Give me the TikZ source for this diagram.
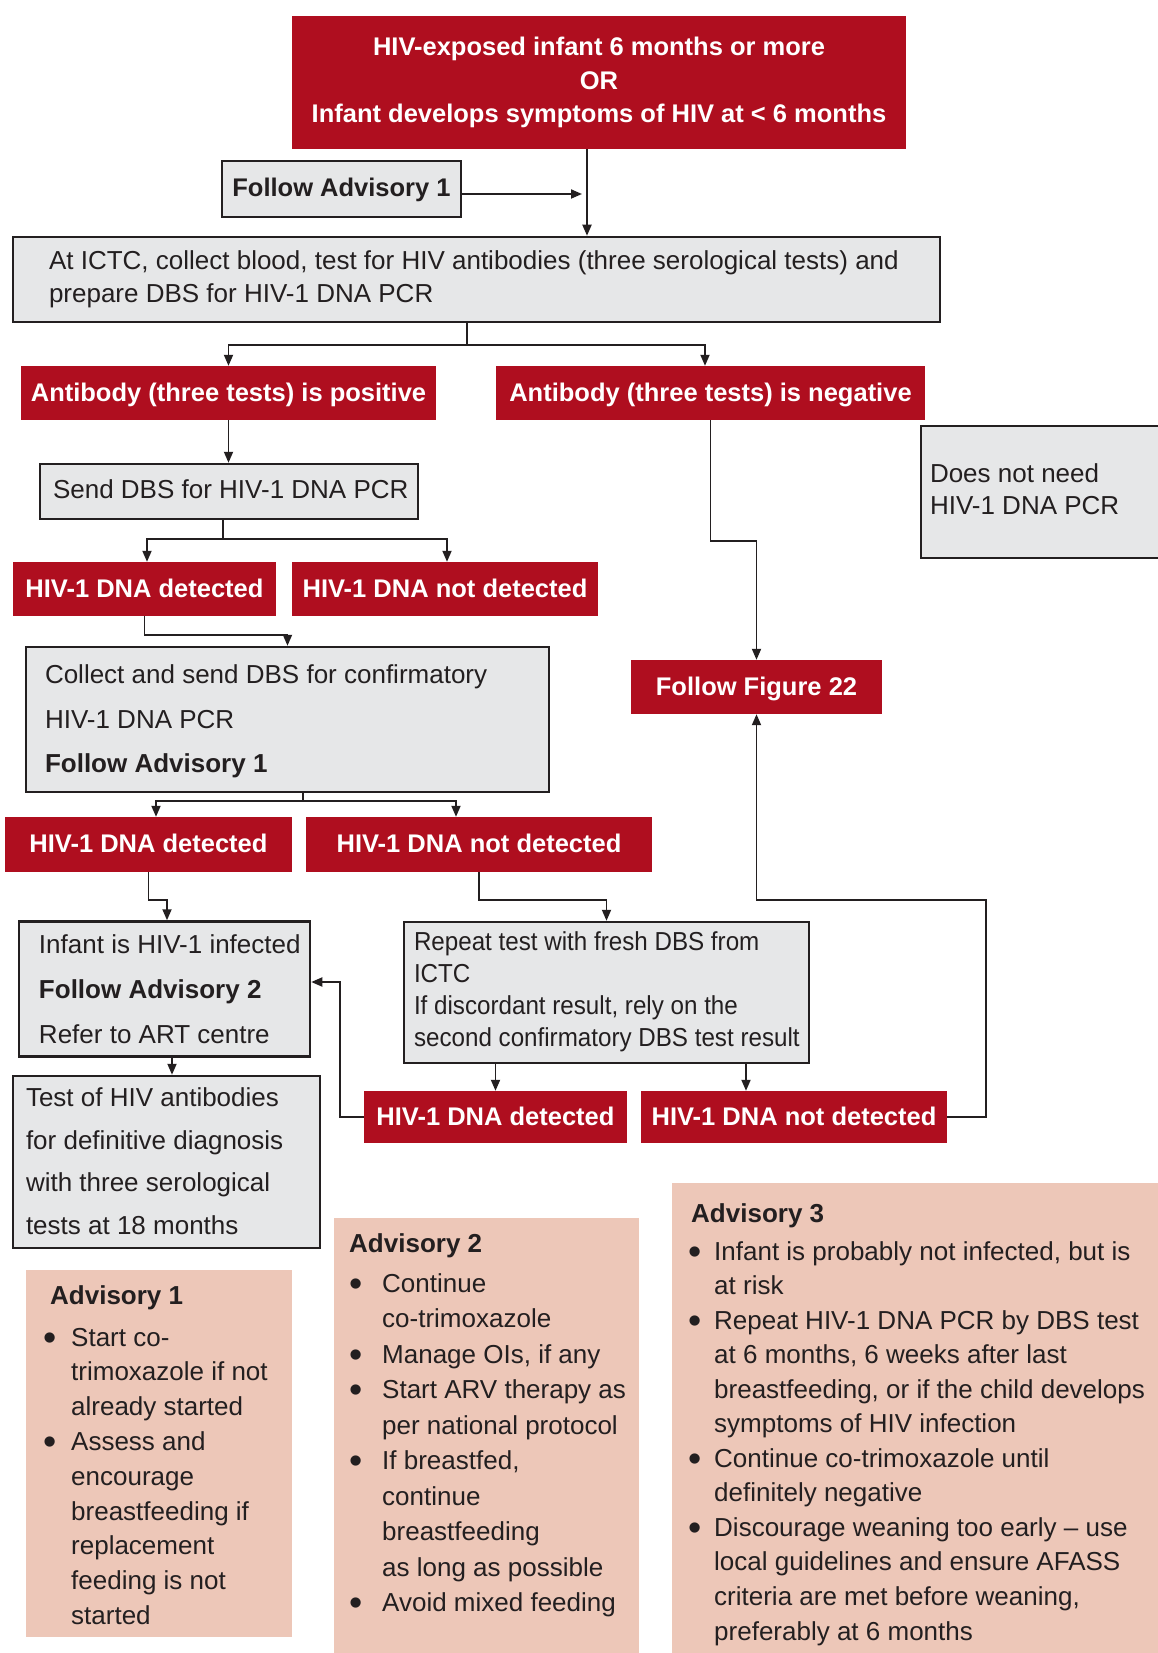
\documentclass[tikz,border=0pt]{standalone}
\usepackage{fontspec}
\usepackage{graphicx}
\setmainfont{Liberation Sans}
\newfontfamily\narrowsans{Liberation Sans}[FakeStretch=0.93]
\usetikzlibrary{arrows.meta}
\definecolor{myred}{HTML}{AF0E1F}
\definecolor{mygrey}{HTML}{E6E7E8}
\definecolor{myline}{HTML}{231F20}
\definecolor{mypink}{HTML}{EDC7B8}
\newcommand\fsz[1]{\fontsize{26}{#1}\selectfont}
\newcommand\bxtxt[3]{\makebox[#1][l]{\hspace*{#2}\begin{tabular}{@{}l@{}}#3\end{tabular}}}
\newcommand\advb[1]{\makebox[#1][l]{\raisebox{-4pt}{\scalebox{1.45}{\textbullet}}}}
\newcommand\advc[1]{\hspace*{#1}}
\begin{document}
\begin{tikzpicture}[x=1pt,y=-1pt,
  redbase/.style={fill=myred, text=white, inner sep=0pt, align=center},
  redbox/.style={redbase, font=\bfseries\fontsize{25.5}{30}\selectfont, text height=19pt, text depth=3pt},
  greybox/.style={fill=mygrey, draw=myline, line width=2.5pt, inner sep=0pt, text=myline},
  conn/.style={draw=myline, line width=1.8pt},
  arr/.style={conn, -{Triangle[length=11pt,width=9pt]}},
  advtxt/.style={anchor=base west, inner sep=0pt, text=myline},
]
\useasboundingbox (0,0) rectangle (1158,1653);
\fill[white] (0,0) rectangle (1158,1653);

% pink advisory backgrounds
\fill[mypink] (26,1270) rectangle (292,1637);
\fill[mypink] (334,1218) rectangle (639,1665);
\fill[mypink] (672,1183) rectangle (1170,1665);

% top box
\node[redbase, minimum width=614pt, minimum height=133pt, font=\bfseries\fontsize{25.5}{33.5}\selectfont] (top) at (599,82.5)
  {\begin{tabular}{@{}c@{}}HIV-exposed infant 6 months or more\\OR\\Infant develops symptoms of HIV at < 6 months\end{tabular}};

\node[greybox, minimum width=239pt, minimum height=56pt, font=\bfseries\fontsize{25.5}{30}\selectfont, text height=19pt, text depth=3pt] (fa1) at (341.5,189) {Follow Advisory 1};

\node[greybox, minimum width=927pt, minimum height=85pt, font=\fsz{33}] (ictc) at (476.5,279.5)
  {\bxtxt{927pt}{36pt}{At ICTC, collect blood, test for HIV antibodies (three serological tests) and\\prepare DBS for HIV-1 DNA PCR}};

\node[redbox, minimum width=415pt, minimum height=54pt] (pos) at (228.5,393) {Antibody (three tests) is positive};
\node[redbox, minimum width=429pt, minimum height=54pt] (neg) at (710.5,393) {Antibody (three tests) is negative};

\node[greybox, minimum width=378pt, minimum height=55pt, font=\fsz{34}] (send) at (229,491.5)
  {\bxtxt{378pt}{13pt}{Send DBS for HIV-1 DNA PCR}};

\node[greybox, minimum width=249pt, minimum height=132pt, font=\fsz{32}] (dnn) at (1045.5,492)
  {\bxtxt{249pt}{9pt}{Does not need\\HIV-1 DNA PCR}};

\node[redbox, minimum width=263pt, minimum height=54pt] (det1) at (144.5,589) {HIV-1 DNA detected};
\node[redbox, minimum width=306pt, minimum height=54pt] (nd1) at (445,589) {HIV-1 DNA not detected};

\node[greybox, minimum width=523pt, minimum height=145pt, font=\fsz{44.5}] (collect) at (287.5,719.5)
  {\bxtxt{523pt}{19pt}{Collect and send DBS for confirmatory\\HIV-1 DNA PCR\\\textbf{Follow Advisory 1}}};

\node[redbox, minimum width=251pt, minimum height=54pt] (fig22) at (756.5,687) {Follow Figure 22};

\node[redbox, minimum width=287pt, minimum height=55pt] (det2) at (148.5,844.5) {HIV-1 DNA detected};
\node[redbox, minimum width=346pt, minimum height=55pt] (nd2) at (479,844.5) {HIV-1 DNA not detected};

\node[greybox, minimum width=291pt, minimum height=134pt, font=\fsz{45}] (infected) at (164.5,989)
  {\bxtxt{291pt}{20pt}{Infant is HIV-1 infected\\\textbf{Follow Advisory 2}\\Refer to ART centre}};

\node[greybox, minimum width=307pt, minimum height=172pt, font=\fsz{42.7}] (test) at (166.5,1162)
  {\bxtxt{307pt}{13pt}{Test of HIV antibodies\\for definitive diagnosis\\with three serological\\tests at 18 months}};

\node[greybox, minimum width=405pt, minimum height=141pt, font=\narrowsans\fsz{32}] (repeat) at (606.5,992.5)
  {\bxtxt{405pt}{10pt}{Repeat test with fresh DBS from\\ICTC\\If discordant result, rely on the\\second confirmatory DBS test result}};

\node[redbox, minimum width=263pt, minimum height=52pt] (det3) at (495.5,1117) {HIV-1 DNA detected};
\node[redbox, minimum width=306pt, minimum height=52pt] (nd3) at (794,1117) {HIV-1 DNA not detected};

% advisory texts
\node[advtxt, font=\bfseries\fsz{35}] (a1t) at (50,1304) {Advisory 1};
\node[advtxt, font=\fsz{34.8}] (a1b) at (43,1346) {\begin{tabular}[t]{@{}l@{}}
\advb{28pt}Start co-\\
\advc{28pt}trimoxazole if not\\
\advc{28pt}already started\\
\advb{28pt}Assess and\\
\advc{28pt}encourage\\
\advc{28pt}breastfeeding if\\
\advc{28pt}replacement\\
\advc{28pt}feeding is not\\
\advc{28pt}started\end{tabular}};

\node[advtxt, font=\bfseries\fsz{35}] (a2t) at (349,1252) {Advisory 2};
\node[advtxt, font=\fsz{35.5}] (a2b) at (349,1292) {\begin{tabular}[t]{@{}l@{}}
\advb{33pt}Continue\\
\advc{33pt}co-trimoxazole\\
\advb{33pt}Manage OIs, if any\\
\advb{33pt}Start ARV therapy as\\
\advc{33pt}per national protocol\\
\advb{33pt}If breastfed,\\
\advc{33pt}continue\\
\advc{33pt}breastfeeding\\
\advc{33pt}as long as possible\\
\advb{33pt}Avoid mixed feeding\end{tabular}};

\node[advtxt, font=\bfseries\fsz{35}] (a3t) at (691,1222) {Advisory 3};
\node[advtxt, font=\fsz{34.55}] (a3b) at (688,1260) {\begin{tabular}[t]{@{}l@{}}
\advb{26pt}Infant is probably not infected, but is\\
\advc{26pt}at risk\\
\advb{26pt}Repeat HIV-1 DNA PCR by DBS test\\
\advc{26pt}at 6 months, 6 weeks after last\\
\advc{26pt}breastfeeding, or if the child develops\\
\advc{26pt}symptoms of HIV infection\\
\advb{26pt}Continue co-trimoxazole until\\
\advc{26pt}definitely negative\\
\advb{26pt}Discourage weaning too early -- use\\
\advc{26pt}local guidelines and ensure AFASS\\
\advc{26pt}criteria are met before weaning,\\
\advc{26pt}preferably at 6 months\end{tabular}};

% connectors
\coordinate (v0) at (587,0);
\coordinate (fa1t) at (582,194);
\draw[arr] (top.south -| v0) -- (ictc.north -| v0);
\draw[arr] (fa1.east |- fa1t) -- (fa1t);

\coordinate (s1) at (467,345);
\draw[conn] (ictc.south -| s1) -- (s1);
\coordinate (n0) at (705,0);
\draw[arr] (s1) -| (pos.north);
\draw[arr] (s1) -| (neg.north -| n0);

\draw[arr] (pos.south) -- (send.north -| pos.south);

\coordinate (s2) at (223,539);
\draw[conn] (send.south -| s2) -- (s2);
\coordinate (v2a) at (147,0);
\coordinate (v2b) at (447,0);
\draw[arr] (s2) -| (det1.north -| v2a);
\draw[arr] (s2) -| (nd1.north -| v2b);

\draw[arr] (det1.south) -- ++(0,19) -| (collect.north);

\coordinate (s4) at (303,801);
\draw[conn] (collect.south -| s4) -- (s4);
\coordinate (v4a) at (156,0);
\coordinate (v4b) at (456,0);
\draw[arr] (s4) -| (det2.north -| v4a);
\draw[arr] (s4) -| (nd2.north -| v4b);

\coordinate (s5) at (167,900);
\draw[arr] (det2.south) |- (s5) -- (infected.north -| s5);

\coordinate (v6) at (172,0);
\draw[arr] (infected.south -| v6) -- (test.north -| v6);

\draw[arr] (nd2.south) -- ++(0,28) -| (repeat.north);

\coordinate (v8) at (746,0);
\draw[arr] (repeat.south -| det3.north) -- (det3.north);
\draw[arr] (repeat.south -| v8) -- (nd3.north -| v8);

\coordinate (j9) at (340,982);
\draw[arr] (det3.west) -| (j9) -- (infected.east |- j9);

\coordinate (j10) at (986,900);
\draw[arr] (nd3.east) -| (j10) -| (fig22.south);

\draw[arr] (neg.south) -- ++(0,121) -| (fig22.north);
\end{tikzpicture}
\end{document}
